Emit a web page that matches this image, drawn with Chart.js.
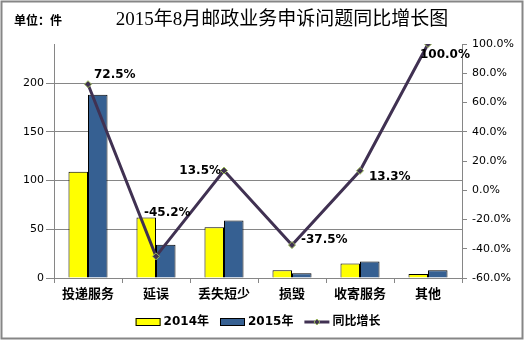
<!DOCTYPE html>
<html><head><meta charset="utf-8">
<script src="https://cdn.jsdelivr.net/npm/chart.js@4/dist/chart.umd.min.js"></script>
<style>html,body{margin:0;padding:0;background:#fff}#wrap{width:525px;height:342px;position:relative}</style>
</head><body><div id="wrap"><canvas id="c" width="525" height="342"></canvas></div>
<script>
const categories = ['投递服务','延误','丢失短少','损毁','收寄服务','其他'];
const values2014 = [109, 62, 52, 8, 15, 4];
const values2015 = [188, 34, 59, 5, 17, 8];
const growth = [72.5, -45.2, 13.5, -37.5, 13.3, 100.0];
const leftTicks = [0, 50, 100, 150, 200];
const rightTicks = [-60, -40, -20, 0, 20, 40, 60, 80, 100];
const seriesNames = ['2014年', '2015年', '同比增长'];
const titleText = '2015年8月邮政业务申诉问题同比增长图';
const unitText = '单位：件';

// label placement relative to each point: [dx, dy, align]
const labelPlacement = [[6,-9,'left'],[-12,-43,'left'],[-3,0,'right'],[9,-5,'left'],[9,6,'left'],[-8,11,'left']];

const GRID = '#868686';
const NUMFONT = '"DejaVu Sans", Verdana, sans-serif';
const CJK = '"Noto Sans CJK SC", sans-serif';

const deco = {
  id: 'deco',
  afterDatasetsDraw(chart) {
    const ctx = chart.ctx;
    const meta = chart.getDatasetMeta(2);
    ctx.save();
    ctx.font = 'bold 12px ' + NUMFONT;
    ctx.fillStyle = '#000';
    ctx.textBaseline = 'middle';
    meta.data.forEach((p, i) => {
      const [dx, dy, al] = labelPlacement[i];
      ctx.textAlign = al;
      ctx.fillText(growth[i].toFixed(1) + '%', p.x + dx, p.y + dy);
    });
    ctx.restore();
  },
  afterDraw(chart) {
    const ctx = chart.ctx;
    ctx.save();
    // frame
    ctx.strokeStyle = '#868686';
    ctx.lineWidth = 2;
    ctx.strokeRect(1.5, 1.5, 521, 337);
    // title
    ctx.fillStyle = '#000';
    ctx.textBaseline = 'middle';
    ctx.textAlign = 'center';
    ctx.font = '19px "Liberation Serif", "Noto Sans CJK SC", serif';
    ctx.fillText(titleText, 282, 20);
    ctx.textAlign = 'left';
    ctx.font = 'bold 12px ' + CJK;
    ctx.fillText(unitText, 14, 20);
    // legend
    const ca = chart.chartArea;
    const items = [
      {type:'box', color:'#ffff00', text: seriesNames[0]},
      {type:'box', color:'#366092', text: seriesNames[1]},
      {type:'line', color:'#403152', text: seriesNames[2]}
    ];
    ctx.font = 'bold 12px ' + NUMFONT + ', ' + CJK;
    const bw = 25, gapTxt = 3, gapItem = 11;
    let total = 0;
    items.forEach((it, i) => { it.w = ctx.measureText(it.text).width; total += bw + gapTxt + it.w + (i < items.length - 1 ? gapItem : 0); });
    let x = (ca.left + ca.right) / 2 - total / 2;
    const y = 322;
    items.forEach(it => {
      if (it.type === 'box') {
        ctx.fillStyle = it.color;
        ctx.fillRect(x, y - 4, bw, 8);
        ctx.strokeStyle = '#000';
        ctx.lineWidth = 1;
        ctx.strokeRect(x + 0.5, y - 3.5, bw - 1, 7);
      } else {
        ctx.strokeStyle = it.color;
        ctx.lineWidth = 3;
        ctx.beginPath(); ctx.moveTo(x, y); ctx.lineTo(x + bw, y); ctx.stroke();
        ctx.fillStyle = '#403152';
        ctx.strokeStyle = '#9bbb59';
        ctx.lineWidth = 1;
        ctx.beginPath();
        const cx = x + bw / 2;
        ctx.moveTo(cx, y - 3); ctx.lineTo(cx + 3, y); ctx.lineTo(cx, y + 3); ctx.lineTo(cx - 3, y); ctx.closePath();
        ctx.fill(); ctx.stroke();
      }
      x += bw + gapTxt;
      ctx.fillStyle = '#000';
      ctx.textAlign = 'left';
      ctx.fillText(it.text, x, y);
      x += it.w + gapItem;
    });
    ctx.restore();
  }
};

new Chart(document.getElementById('c'), {
  data: {
    labels: categories,
    datasets: [
      {type:'bar', label: seriesNames[0], data: values2014, yAxisID:'y', backgroundColor:'#ffff00', borderColor:'#000', borderWidth:1, order:2, categoryPercentage:0.574, barPercentage:1},
      {type:'bar', label: seriesNames[1], data: values2015, yAxisID:'y', backgroundColor:'#366092', borderColor:'#000', borderWidth:1, order:2, categoryPercentage:0.574, barPercentage:1},
      {type:'line', label: seriesNames[2], data: growth, yAxisID:'y1', borderColor:'#403152', borderWidth:3, tension:0, pointStyle:'rectRot', pointRadius:3.5, pointBackgroundColor:'#403152', pointBorderColor:'#9bbb59', pointBorderWidth:1, order:0}
    ]
  },
  options: {
    responsive:false, animation:false, devicePixelRatio:1,
    layout:{padding:{top:44, left:0, right:0, bottom:0}},
    plugins:{legend:{display:false}, tooltip:{enabled:false}, title:{display:false}},
    scales:{
      x:{
        offset:true,
        grid:{display:true, drawOnChartArea:false, drawTicks:true, tickLength:5, color:GRID, offset:true},
        border:{color:GRID, width:1},
        ticks:{font:{family:CJK, size:13, weight:'bold'}, color:'#000', padding:2, maxRotation:0},
        afterFit(s){ s.height = 64; }
      },
      y:{
        position:'left', min:0, max:240,
        afterBuildTicks(s){ s.ticks = leftTicks.map(v => ({value:v})); },
        grid:{color:GRID, tickLength:8, drawTicks:true},
        border:{color:GRID, width:1},
        ticks:{font:{family:NUMFONT, size:11}, color:'#000', padding:2},
        afterFit(s){ s.width = 54; }
      },
      y1:{
        position:'right', min:-60, max:100,
        afterBuildTicks(s){ s.ticks = rightTicks.map(v => ({value:v})); },
        grid:{drawOnChartArea:false, color:GRID, tickLength:5, drawTicks:true},
        border:{color:GRID, width:1},
        ticks:{font:{family:NUMFONT, size:11}, color:'#000', padding:5, callback:v => v.toFixed(1) + '%'},
        afterFit(s){ s.width = 63; }
      }
    }
  },
  plugins:[deco]
});
</script>
</body></html>
